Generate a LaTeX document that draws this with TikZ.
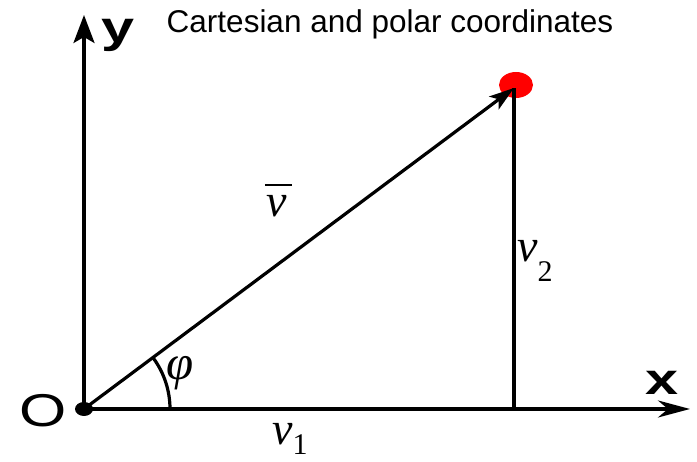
\documentclass[tikz,border=0pt]{standalone}
\usepackage{fontspec}
\setmainfont{Liberation Serif}
\setsansfont{Liberation Sans}
\usetikzlibrary{arrows.meta,shapes.geometric}
\begin{document}
\begin{tikzpicture}[x=1pt,y=1pt,
  axis/.style={line width=3.2pt},
  lbl/.style={inner sep=0pt, font=\fontsize{46}{50}\selectfont\sffamily},
  vlbl/.style={inner sep=0pt, font=\fontsize{46}{50}\selectfont\itshape},
  dotnode/.style={ellipse, inner sep=0pt},
]
\useasboundingbox (0,0) rectangle (697,462);
\coordinate (O) at (84,53);
\coordinate (Y) at (84,447);
\coordinate (X) at (690,53);
\coordinate (P) at (514,374);
\coordinate (F) at (514,53);
\node[dotnode, fill=red, minimum width=34pt, minimum height=26pt] (pdot) at (516,377) {};
\draw[axis, -{Stealth[length=28pt,width=21pt,inset=6pt]}] (O) -- (Y);
\draw[axis, -{Stealth[length=32pt,width=17pt,inset=10pt]}] (O) -- (X);
\draw[axis] (F) -- (P);
\draw[axis, -{Stealth[length=25pt,width=16pt,inset=6pt]}] (O) -- (P);
\draw[axis] (O) ++(86,0) arc[start angle=0,end angle=36.7,radius=86];
\node[dotnode, fill=black, minimum width=18pt, minimum height=14pt] (odot) at (O) {};
\node[font=\fontsize{31.5}{36}\selectfont\sffamily, anchor=base, inner sep=0pt] (title) at (390,429) {Cartesian and polar coordinates};
\node[lbl, font=\fontsize{44}{50}\selectfont\sffamily\bfseries, xscale=1.35, anchor=base] (ylab) at (118,419) {y};
\node[lbl, font=\fontsize{44}{50}\selectfont\sffamily\bfseries, xscale=1.35, anchor=base] (xlab) at (662.5,67) {x};
\node[lbl, xscale=1.32, anchor=base] (olab) at (43.5,35) {O};
\node[vlbl, anchor=base] (vbar) at (277,245) {\rlap{\hspace{-2pt}\raisebox{31pt}{\rule{27pt}{2pt}}}v};
\node[vlbl, anchor=base west] (v2) at (517,200) {v\raisebox{-20pt}{\fontsize{30}{30}\selectfont\upshape 2}};
\node[vlbl, anchor=base west] (v1) at (272,17) {v\raisebox{-10pt}{\fontsize{30}{30}\selectfont\upshape 1}};
\node[vlbl, font=\fontsize{49}{50}\selectfont\itshape] (phi) at (180,89) {φ};
\end{tikzpicture}
\end{document}
